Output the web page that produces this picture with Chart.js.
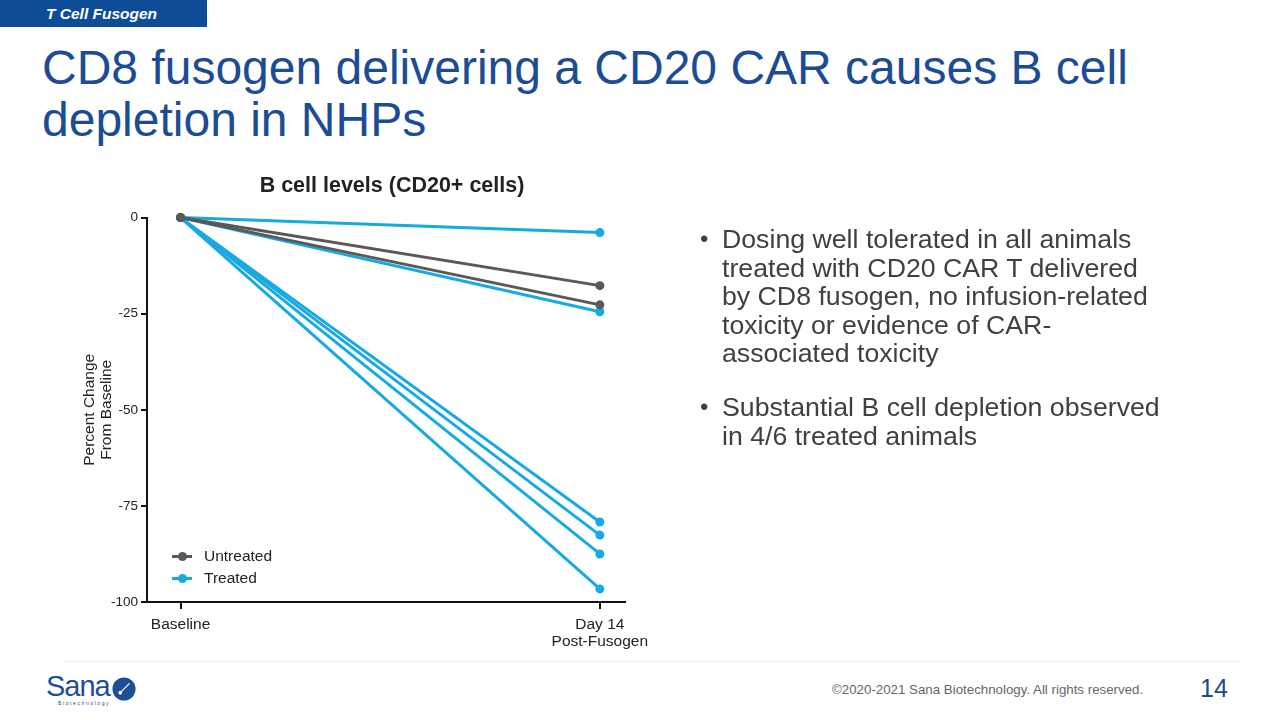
<!DOCTYPE html>
<html>
<head>
<meta charset="utf-8">
<script src="https://cdn.jsdelivr.net/npm/chart.js@4"></script>
<style>
  body { margin: 0; width: 1280px; height: 720px; background: #fff; font-family: "Liberation Sans", Arial, sans-serif; position: relative; overflow: hidden; }
  .tag { position: absolute; left: 0; top: 0; width: 207px; height: 27px; background: #0f4c97; color: #fff; font-weight: bold; font-style: italic; font-size: 15.5px; line-height: 27px; padding-left: 46px; box-sizing: border-box; }
  .title { position: absolute; left: 42px; top: 42px; color: #1b4c94; font-size: 48px; line-height: 52px; }
  .chart-box { position: absolute; left: 60px; top: 160px; width: 664px; height: 500px; }
  .legend { position: absolute; left: 172px; top: 545px; font-size: 15.5px; color: #222; }
  .legend div { height: 22px; line-height: 22px; position: relative; padding-left: 32px; }
  .legend i { position: absolute; left: 0; top: 10px; width: 20px; height: 3px; }
  .legend i::after { content: ""; position: absolute; left: 6px; top: -3px; width: 9px; height: 9px; border-radius: 50%; background: inherit; }
  .bullets { position: absolute; left: 700px; top: 225px; width: 462px; color: #404040; font-size: 26.7px; line-height: 28.6px; }
  .bullets p { margin: 0 0 25.4px 0; padding-left: 22px; position: relative; }
  .bullets p::before { content: "\2022"; position: absolute; left: 0; font-size: 24px; }
  .rule { position: absolute; left: 65px; top: 661px; width: 1175px; height: 1px; background: #ececec; }
  .logo { position: absolute; left: 46px; top: 672px; color: #1d4e96; font-size: 29px; line-height: 28px; letter-spacing: -1px; }
  .logo small { display: block; font-size: 5px; line-height: 6px; letter-spacing: 1.6px; margin-left: 12px; }
  .logo svg { position: absolute; left: 66px; top: 5px; }
  .copy { position: absolute; left: 832px; top: 682px; color: #666; font-size: 13.3px; }
  .page { position: absolute; left: 1200px; top: 674px; color: #1e4a86; font-size: 25px; }
</style>
</head>
<body>
<div class="tag">T Cell Fusogen</div>
<div class="title">CD8 fusogen delivering a CD20 CAR causes B cell<br>depletion in NHPs</div>

<div class="chart-box"><canvas id="bcell"></canvas></div>
<div class="legend">
  <div><i style="background:#595959"></i>Untreated</div>
  <div><i style="background:#17a9e1"></i>Treated</div>
</div>

<div class="bullets">
  <p>Dosing well tolerated in all animals treated with CD20 CAR T delivered by CD8 fusogen, no infusion-related toxicity or evidence of CAR-associated toxicity</p>
  <p>Substantial B cell depletion observed in 4/6 treated animals</p>
</div>

<div class="rule"></div>
<div class="logo">Sana<small>Biotechnology</small>
  <svg width="24" height="24" viewBox="0 0 26 26"><circle cx="13" cy="13" r="12.5" fill="#1d4e96"/><line x1="9" y1="17" x2="19" y2="7" stroke="#fff" stroke-width="1.2"/><circle cx="9" cy="17" r="2" fill="#fff"/></svg>
</div>
<div class="copy">©2020-2021 Sana Biotechnology. All rights reserved.</div>
<div class="page">14</div>

<script>
const timepoints = ["Baseline", ["Day 14", "Post-Fusogen"]];
const baselineValue = 0;
// percent change at day 14, one value per animal
const untreatedDay14 = [-17.7, -22.7];
const treatedDay14 = [-3.9, -24.5, -79.2, -82.6, -87.5, -96.6];
const yTicks = [0, -25, -50, -75, -100];

const untreatedColor = "#595959";
const treatedColor = "#17a9e1";

function animalLine(day14, color) {
  return {
    data: [{ x: 0, y: baselineValue }, { x: 1, y: day14 }],
    borderColor: color,
    backgroundColor: color,
    borderWidth: 3,
    pointRadius: 4.5,
    pointBorderWidth: 0,
    clip: false,
  };
}

const datasets = [];
untreatedDay14.forEach((v) => datasets.push(animalLine(v, untreatedColor)));
treatedDay14.forEach((v) => datasets.push(animalLine(v, treatedColor)));

const bcell_chart = document.getElementById("bcell");
new Chart(bcell_chart, {
  type: "line",
  data: { datasets: datasets },
  options: {
    responsive: true,
    maintainAspectRatio: false,
    animation: false,
    layout: { padding: 0 },
    scales: {
      x: {
        type: "linear",
        min: -0.08,
        max: 1.06,
        afterBuildTicks: (scale) => {
          scale.ticks = timepoints.map((t, i) => ({ value: i }));
        },
        afterFit: (scale) => {
          scale.height = 58;
        },
        border: { color: "#111", width: 2 },
        grid: { drawOnChartArea: false, color: "#111", lineWidth: 2, tickLength: 7 },
        ticks: {
          padding: 7.5,
          color: "#222",
          font: { family: "Liberation Sans", size: 15.5, lineHeight: 1.08 },
          callback: (v) => timepoints[v],
        },
      },
      y: {
        min: -100,
        max: 0,
        afterBuildTicks: (scale) => {
          scale.ticks = yTicks.map((v) => ({ value: v }));
        },
        afterFit: (scale) => {
          scale.width = 87;
        },
        border: { color: "#111", width: 2 },
        grid: { drawOnChartArea: false, color: "#111", lineWidth: 2, tickLength: 6 },
        ticks: {
          padding: 3,
          color: "#222",
          font: { family: "Liberation Sans", size: 13.5 },
        },
        title: {
          display: true,
          text: ["Percent Change", "From Baseline"],
          color: "#222",
          padding: { top: 22 },
          font: { family: "Liberation Sans", size: 15.5, lineHeight: 1.05 },
        },
      },
      // empty spacer on the right so the title centres over the whole box
      spacer: {
        position: "right",
        min: 0,
        max: 1,
        ticks: { display: false },
        grid: { display: false },
        border: { display: false },
        afterFit: (scale) => {
          scale.width = 99;
        },
      },
    },
    plugins: {
      legend: { display: false },
      tooltip: { enabled: false },
      title: {
        display: true,
        text: "B cell levels (CD20+ cells)",
        color: "#222",
        padding: { top: 13.1, bottom: 18.7 },
        font: { family: "Liberation Sans", size: 21.5, weight: "bold" },
      },
    },
  },
});
</script>
</body>
</html>
